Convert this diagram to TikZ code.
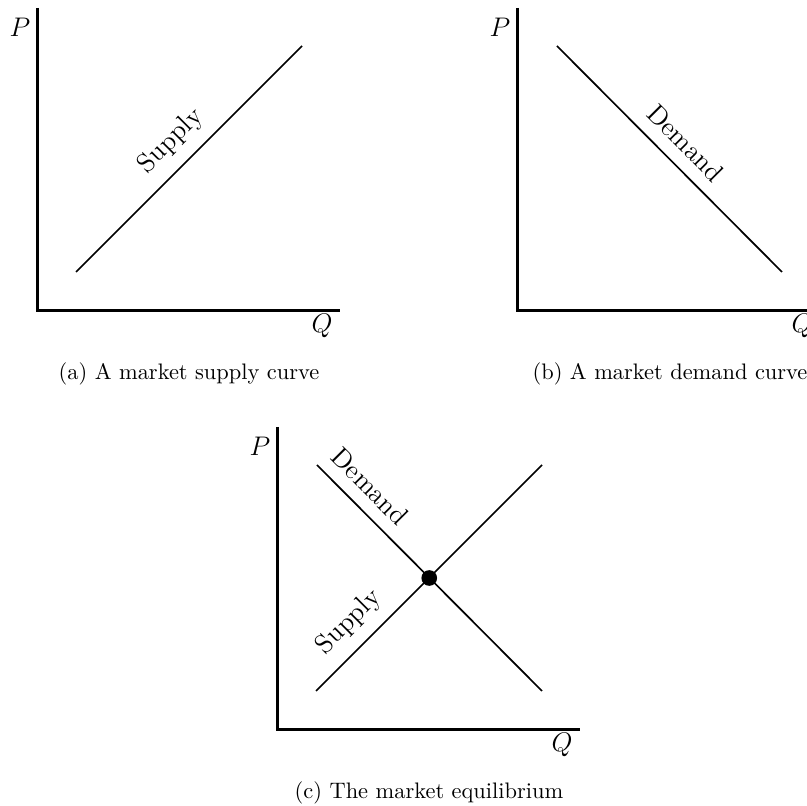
\documentclass[tikz,border=0pt]{standalone}
\begin{document}
\begin{tikzpicture}[x=0.446pt,y=-0.446pt,
  axis/.style={line width=1pt},
  curve/.style={line width=0.75pt},
  lbl/.style={sloped,above=5.5pt,inner sep=0pt,font=\fontsize{12}{14}\selectfont},
  axlbl/.style={inner sep=0pt,font=\fontsize{11.5}{13}\selectfont},
  dot/.style={circle,fill=black,inner sep=0pt,minimum size=7pt}]
\useasboundingbox (0,0) rectangle (807,806);
% ---- panel (a)
\begin{scope}
  \coordinate (aT) at (37.5,8);
  \coordinate (aO) at (37.5,310.5);
  \coordinate (aR) at (340,310.5);
  \draw[axis] (aT) -- (aO) -- (aR);
  \coordinate (aS1) at (76,272);
  \coordinate (aS2) at (302,46);
  \draw[curve] (aS1) -- node[lbl] (aSl) {Supply} (aS2);
  \node[axlbl] (aP) at (20,27) {$P$};
  \node[axlbl] (aQ) at (322,326) {$Q$};
  \node (aCap) at (189,374) {(a) A market supply curve};
\end{scope}
% ---- panel (b)
\begin{scope}[shift={(480,0)}]
  \coordinate (bT) at (37.5,8);
  \coordinate (bO) at (37.5,310.5);
  \coordinate (bR) at (340,310.5);
  \draw[axis] (bT) -- (bO) -- (bR);
  \coordinate (bD1) at (77,46);
  \coordinate (bD2) at (302,272);
  \draw[curve] (bD1) -- node[lbl] (bDl) {Demand} (bD2);
  \node[axlbl] (bP) at (20,27) {$P$};
  \node[axlbl] (bQ) at (322,326) {$Q$};
  \node (bCap) at (190,374) {(b) A market demand curve};
\end{scope}
% ---- panel (c)
\begin{scope}[shift={(240,419)}]
  \coordinate (cT) at (37.5,8);
  \coordinate (cO) at (37.5,310.5);
  \coordinate (cR) at (340,310.5);
  \draw[axis] (cT) -- (cO) -- (cR);
  \coordinate (cS1) at (76,272);
  \coordinate (cS2) at (302,46);
  \coordinate (cD1) at (77,46);
  \coordinate (cD2) at (302,272);
  \draw[curve] (cS1) -- node[lbl,pos=0.225] (cSl) {Supply} (cS2);
  \draw[curve] (cD1) -- node[lbl,pos=0.165] (cDl) {Demand} (cD2);
  \node[dot] (eq) at (189.25,159) {};
  \node[axlbl] (cP) at (20,27) {$P$};
  \node[axlbl] (cQ) at (322,326) {$Q$};
  \node (cCap) at (189,374) {(c) The market equilibrium};
\end{scope}
\end{tikzpicture}
\end{document}
